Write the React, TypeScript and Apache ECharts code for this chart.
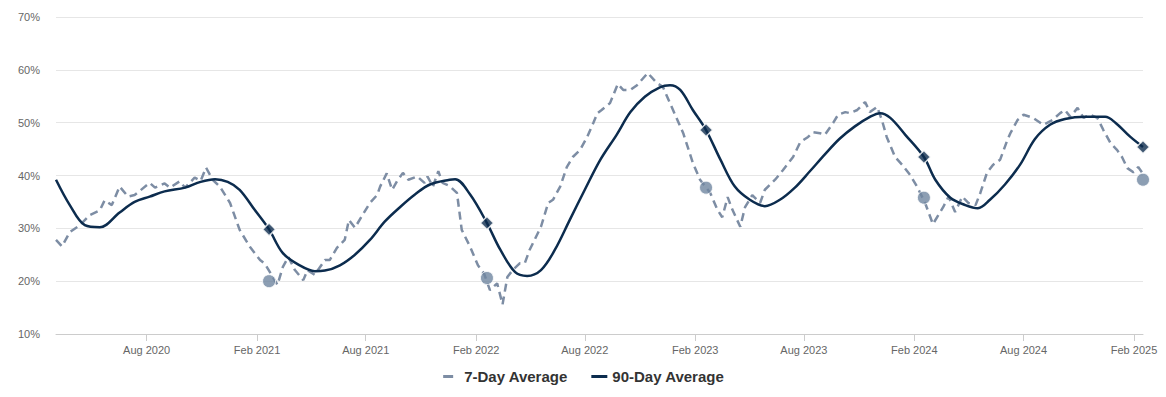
import React, { useEffect, useRef } from "react";
import * as echarts from "echarts";

const sevenDayDates = [
  "2020-03-03","2020-03-13","2020-03-26","2020-04-12","2020-04-28","2020-05-15","2020-05-23","2020-06-04","2020-06-17","2020-07-01",
  "2020-07-12","2020-08-06","2020-08-15","2020-08-31","2020-09-09","2020-09-25","2020-10-04","2020-10-20","2020-10-30","2020-11-08",
  "2020-11-19","2020-12-01","2020-12-18","2021-01-03","2021-01-20","2021-02-06","2021-02-14","2021-03-07","2021-03-16","2021-03-25",
  "2021-04-05","2021-04-19","2021-04-26","2021-05-08","2021-05-25","2021-06-02","2021-06-14","2021-06-27","2021-07-04","2021-07-14",
  "2021-07-27","2021-08-08","2021-08-20","2021-08-25","2021-09-05","2021-09-14","2021-09-22","2021-10-02","2021-10-11","2021-10-26",
  "2021-11-07","2021-11-12","2021-11-21","2021-11-30","2021-12-07","2021-12-19","2021-12-31","2022-01-08","2022-01-22","2022-02-04",
  "2022-02-14","2022-02-24","2022-03-08","2022-03-17","2022-03-25","2022-04-03","2022-04-15","2022-04-23","2022-05-01","2022-05-20",
  "2022-06-01","2022-06-09","2022-06-21","2022-07-02","2022-07-12","2022-07-24","2022-08-05","2022-08-15","2022-08-22","2022-08-29",
  "2022-09-12","2022-09-25","2022-10-04","2022-10-16","2022-10-27","2022-11-14","2022-11-29","2022-12-09","2022-12-26","2023-01-12",
  "2023-01-28","2023-02-09","2023-02-26","2023-03-10","2023-03-18","2023-03-27","2023-04-04","2023-04-17","2023-04-25","2023-05-07",
  "2023-05-20","2023-05-28","2023-06-14","2023-06-27","2023-07-14","2023-07-26","2023-08-08","2023-08-16","2023-08-28","2023-09-05",
  "2023-09-19","2023-09-27","2023-10-09","2023-10-17","2023-10-29","2023-11-11","2023-11-19","2023-12-01","2023-12-09","2023-12-17",
  "2023-12-31","2024-01-12","2024-01-25","2024-02-06","2024-02-19","2024-03-03","2024-03-20","2024-03-29","2024-04-09","2024-04-21",
  "2024-05-01","2024-05-13","2024-05-21","2024-06-01","2024-06-11","2024-06-23","2024-07-05","2024-07-10","2024-07-22","2024-08-01",
  "2024-08-17","2024-09-03","2024-09-18","2024-10-01","2024-10-09","2024-10-18","2024-10-30","2024-11-09","2024-11-20","2024-12-02",
  "2024-12-12","2024-12-24","2025-01-04","2025-01-12","2025-01-21","2025-01-31","2025-02-08","2025-02-15"
];
const sevenDayValues = [
  27.8,26.6,29.3,30.6,32.5,33.4,35.3,34.4,37.9,36.0,
  36.3,38.6,37.7,38.5,37.7,38.9,37.7,39.6,39.0,41.5,
  39.2,37.9,34.8,29.7,26.5,24.0,23.3,19.3,22.7,24.6,
  22.1,20.2,22.1,21.2,24.0,24.0,26.3,27.8,31.6,30.1,
  32.6,34.8,36.3,37.9,40.4,37.3,38.9,40.5,39.2,39.8,
  38.6,39.8,37.9,40.8,38.6,38.0,36.7,29.7,26.5,23.0,
  21.5,18.3,19.6,15.6,20.8,22.1,23.4,23.4,25.9,30.3,
  34.8,35.4,37.9,41.6,43.5,44.8,47.3,49.9,51.8,52.4,
  53.7,57.3,56.2,56.2,57.1,59.4,57.5,56.8,52.4,48.0,
  42.4,39.2,36.7,33.5,32.1,35.9,33.5,30.3,34.0,36.3,
  34.8,37.3,39.2,41.0,43.5,46.3,47.3,48.2,48.0,47.7,
  50.0,51.5,52.0,51.8,52.4,53.9,52.0,53.0,50.5,47.3,
  43.5,42.0,40.1,37.8,34.8,30.8,34.0,36.0,33.1,36.0,
  34.8,34.4,36.7,40.5,42.0,43.0,46.7,48.0,50.5,51.5,
  50.9,49.6,50.5,51.8,52.4,51.1,52.8,50.9,51.5,50.9,
  48.6,46.1,44.8,43.5,41.4,40.6,41.6,40.5
];

const ninetyDayDates = [
  "2020-03-03","2020-03-26","2020-04-20","2020-05-15","2020-06-17","2020-07-12","2020-08-06","2020-08-31","2020-10-04","2020-10-30",
  "2020-11-23","2020-12-14","2021-01-03","2021-01-28","2021-02-21","2021-03-16","2021-04-13","2021-05-08","2021-05-25","2021-06-19",
  "2021-07-14","2021-08-08","2021-09-02","2021-09-27","2021-10-22","2021-11-16","2021-12-19","2021-12-28","2022-01-22","2022-02-19",
  "2022-03-13","2022-04-07","2022-04-27","2022-05-20","2022-06-12","2022-07-07","2022-08-01","2022-08-27","2022-09-23","2022-10-16",
  "2022-11-09","2022-12-04","2022-12-21","2023-01-07","2023-01-28","2023-02-19","2023-03-15","2023-04-08","2023-05-03","2023-05-28",
  "2023-06-22","2023-07-17","2023-08-11","2023-09-05","2023-09-30","2023-10-25","2023-11-19","2023-12-06","2023-12-23","2024-01-17",
  "2024-02-17","2024-03-07","2024-04-01","2024-04-26","2024-05-17","2024-06-06","2024-07-01","2024-07-26","2024-08-20","2024-09-14",
  "2024-10-09","2024-11-12","2024-12-15","2025-01-01","2025-01-26","2025-02-16"
];
const ninetyDayValues = [
  39.2,34.4,30.6,30.2,33.0,35.0,36.0,37.0,37.7,38.8,
  39.3,38.8,37.3,33.5,29.8,25.3,23.0,21.9,22.0,23.0,
  25.0,27.8,31.3,34.0,36.4,38.3,39.2,39.3,36.4,31.0,
  26.0,21.7,21.0,22.1,25.9,31.6,37.3,43.0,47.7,52.0,
  54.9,56.7,57.1,56.2,52.4,48.6,43.0,37.9,35.4,34.2,
  35.4,37.7,40.8,44.0,47.0,49.3,51.1,51.8,50.9,47.7,
  43.5,39.2,35.8,34.4,33.8,35.4,38.3,42.0,46.9,49.6,
  50.7,51.1,51.1,50.0,47.3,45.4
];

const markerDates = ["2021-02-21","2022-02-19","2023-02-19","2024-02-17","2025-02-16"];
const markerSevenDay = [20.0, 20.6, 37.7, 35.8, 39.2];
const markerNinetyDay = [29.8, 31.0, 48.6, 43.5, 45.4];

const xTickDates = [
  "2020-08-01","2021-02-01","2021-08-01","2022-02-01","2022-08-01",
  "2023-02-01","2023-08-01","2024-02-01","2024-08-01","2025-02-01"
];
const xMin = "2020-03-03";
const xMax = "2025-02-16";
const yTicks = [10, 20, 30, 40, 50, 60, 70];

const monthNames = ["Jan","Feb","Mar","Apr","May","Jun","Jul","Aug","Sep","Oct","Nov","Dec"];
const ts = (s: string) => new Date(s + "T00:00:00Z").getTime();

const SEVEN_COLOR = "#7d8da4";
const CIRCLE_COLOR = "#6f86a0";
const NAVY = "#0c2c4e";
const FONT = "Liberation Sans, Arial, sans-serif";

export default function App() {
  const ref = useRef<HTMLDivElement>(null);
  useEffect(() => {
    document.body.style.margin = "0";
    if (!ref.current) return;
    const chart = echarts.init(ref.current, null, { renderer: "svg" });
    const option = {
      animation: false,
      textStyle: { fontFamily: FONT },
      grid: { left: 56, right: 23, top: 17, bottom: 63, containLabel: false },
      legend: {
        data: [
          { name: "7-Day Average", lineStyle: { type: [10, 10], width: 3 } },
          { name: "90-Day Average", lineStyle: { width: 3 } },
        ],
        bottom: 8,
        left: "center",
        itemWidth: 16,
        itemHeight: 3,
        itemGap: 22,
        textStyle: { fontSize: 15, fontWeight: "bold", color: "#333333", fontFamily: FONT },
      },
      xAxis: {
        type: "value",
        min: ts(xMin),
        max: ts(xMax),
        axisLine: { show: true, lineStyle: { color: "#cccccc", width: 1 } },
        axisTick: {
          show: true,
          length: 7,
          lineStyle: { color: "#cccccc" },
          customValues: xTickDates.map(ts),
        },
        axisLabel: {
          customValues: xTickDates.map(ts),
          color: "#666666",
          fontSize: 11,
          margin: 10,
          fontFamily: FONT,
          formatter: (v: number) => {
            const d = new Date(v);
            return monthNames[d.getUTCMonth()] + " " + d.getUTCFullYear();
          },
        },
        splitLine: { show: false },
      },
      yAxis: {
        type: "value",
        min: yTicks[0],
        max: yTicks[yTicks.length - 1],
        interval: 10,
        axisLine: { show: false },
        axisTick: { show: false },
        axisLabel: { formatter: "{value}%", color: "#666666", fontSize: 11, margin: 16, fontFamily: FONT },
        splitLine: { lineStyle: { color: "#e6e6e6", width: 1 } },
      },
      series: [
        {
          name: "7-Day Average",
          type: "line",
          data: sevenDayDates.map((d, i) => [ts(d), sevenDayValues[i]]),
          symbol: "none",
          lineStyle: { color: SEVEN_COLOR, width: 2.5, type: [8, 5] },
          itemStyle: { color: SEVEN_COLOR },
          z: 2,
        },
        {
          name: "90-Day Average",
          type: "line",
          data: ninetyDayDates.map((d, i) => [ts(d), ninetyDayValues[i]]),
          symbol: "none",
          smooth: 0.35,
          lineStyle: { color: NAVY, width: 2.5 },
          itemStyle: { color: NAVY },
          z: 3,
        },
        {
          name: "7-Day Marker",
          type: "scatter",
          data: markerDates.map((d, i) => [ts(d), markerSevenDay[i]]),
          symbol: "circle",
          symbolSize: 13,
          itemStyle: { color: CIRCLE_COLOR, borderColor: "#ffffff", borderWidth: 1 },
          z: 4,
        },
        {
          name: "90-Day Marker",
          type: "scatter",
          data: markerDates.map((d, i) => [ts(d), markerNinetyDay[i]]),
          symbol: "diamond",
          symbolSize: 13,
          itemStyle: { color: NAVY, borderColor: "#ffffff", borderWidth: 1.5 },
          z: 5,
        },
      ],
    };
    chart.setOption(option);
    return () => chart.dispose();
  }, []);
  return <div ref={ref} style={{ width: 1166, height: 397 }} />;
}
